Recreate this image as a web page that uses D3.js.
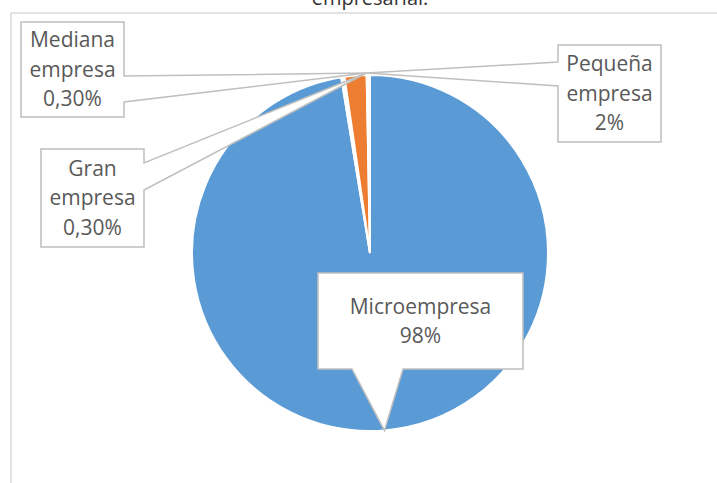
<!DOCTYPE html>
<html>
<head>
<meta charset="utf-8">
<script src="https://cdn.jsdelivr.net/npm/d3@7"></script>
<style>
  body { margin: 0; background: #fff; }
  svg { display: block; font-family: "Open Sans", sans-serif; }
</style>
</head>
<body>
<svg id="chart" width="717" height="483"></svg>
<script>
// slices, clockwise from 12 o'clock
var categories = ['Microempresa', 'Mediana empresa', 'Pequeña empresa', 'Gran empresa'];
var values = [98, 0.3, 2, 0.3];
var valueLabels = ['98%', '0,30%', '2%', '0,30%'];
var colors = ['#5B9BD5', '#FFFFFF', '#ED7D31', '#FFFFFF'];

// callout boxes (layout only)
var boxes = [
    { x: 318, y: 273, w: 205, h: 96, side: 'bottom', a: 352, b: 403, lines: ['Microempresa'] },
    { x: 21, y: 22, w: 103, h: 95, side: 'right', a: 76, b: 102, lines: ['Mediana', 'empresa'] },
    { x: 558, y: 45, w: 103, h: 97, side: 'left', a: 62, b: 86, lines: ['Pequeña', 'empresa'] },
    { x: 41, y: 149, w: 103, h: 98, side: 'right', a: 163, b: 190, lines: ['Gran', 'empresa'] }
];

var svg = d3.select('#chart');
var cx = 370, cy = 253, radius = 178;

// frame of the chart area
svg.append('line')
    .attr('x1', 11).attr('y1', 13).attr('x2', 717).attr('y2', 13)
    .style('stroke', '#D9D9D9').style('stroke-width', 1.5);
svg.append('line')
    .attr('x1', 11).attr('y1', 13).attr('x2', 11).attr('y2', 483)
    .style('stroke', '#D9D9D9').style('stroke-width', 1.5);

// title (cut at the top)
svg.append('text')
    .attr('x', 370).attr('y', 5)
    .attr('text-anchor', 'middle')
    .attr('font-size', 20)
    .style('fill', '#333')
    .text('empresarial.');

var pie = d3.pie().sort(null).value(function(d){ return d; });
var arcs = pie(values);
var arc = d3.arc().innerRadius(0).outerRadius(radius);

var g = svg.append('g').attr('transform', 'translate(' + cx + ',' + cy + ')');
g.selectAll('path')
    .data(arcs)
    .enter().append('path')
    .attr('d', arc)
    .style('fill', function(d, i){ return colors[i]; })
    .style('stroke', '#fff')
    .style('stroke-width', 2);

// point on the rim for a given angle
function rimPoint(angle, r){
    return [cx + r * Math.sin(angle), cy - r * Math.cos(angle)];
}

// all small slices point to the top of the pie
var tips = arcs.map(function(d, i){
    if(i === 0){
        return rimPoint((d.startAngle + d.endAngle) / 2, radius);
    }
    return rimPoint(2 * Math.PI - 0.02, radius + 2);
});

boxes.forEach(function(b, i){
    var t = tips[i];
    var x0 = b.x, y0 = b.y, x1 = b.x + b.w, y1 = b.y + b.h;
    var pts;
    if(b.side === 'bottom'){
        pts = [[x0, y0], [x1, y0], [x1, y1], [b.b, y1], t, [b.a, y1], [x0, y1]];
    } else if(b.side === 'right'){
        pts = [[x0, y0], [x1, y0], [x1, b.a], t, [x1, b.b], [x1, y1], [x0, y1]];
    } else {
        pts = [[x0, y0], [x1, y0], [x1, y1], [x0, y1], [x0, b.b], t, [x0, b.a]];
    }
    svg.append('path')
        .attr('d', d3.line()(pts) + 'Z')
        .style('fill', '#fff')
        .style('stroke', '#BFBFBF')
        .style('stroke-width', 1.5)
        .style('stroke-linejoin', 'miter');

    var lines = b.lines.concat([valueLabels[i]]);
    var lineH = 29.5;
    var midY = y0 + b.h / 2;
    var text = svg.append('text')
        .attr('text-anchor', 'middle')
        .attr('font-size', 21)
        .style('fill', '#595959');
    lines.forEach(function(s, k){
        text.append('tspan')
            .attr('x', x0 + b.w / 2)
            .attr('y', midY + (k - (lines.length - 1) / 2) * lineH)
            .attr('dy', '0.35em')
            .text(s);
    });
});
</script>
</body>
</html>
